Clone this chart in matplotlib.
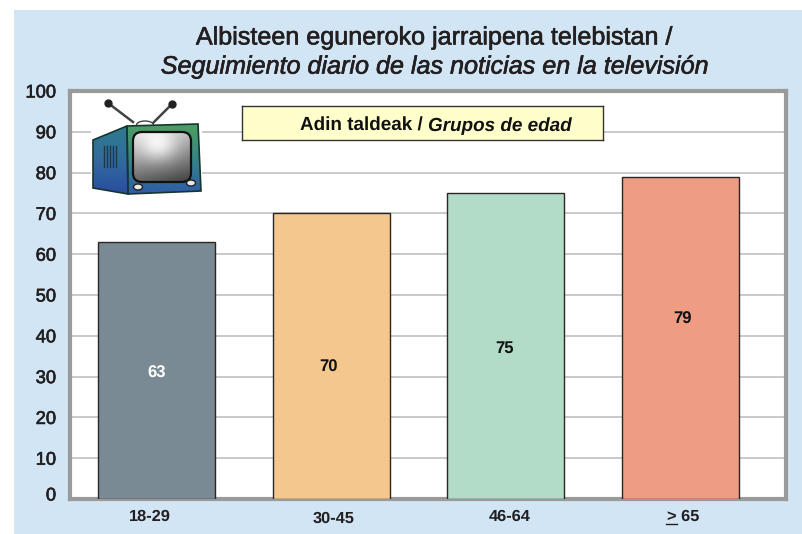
import matplotlib
matplotlib.use("Agg")
import matplotlib.pyplot as plt
import matplotlib.patheffects as pe
from matplotlib.lines import Line2D
from matplotlib.patches import Polygon, Rectangle, Ellipse, FancyBboxPatch
from matplotlib.transforms import ScaledTranslation
import numpy as np

plt.rcParams['font.family'] = ['Liberation Sans', 'DejaVu Sans']
plt.rcParams['text.hinting'] = 'no_hinting'

groups = ['18-29', '30-45', '46-64', '> 65']
group_px = [150, 334, 509.5, 683]
group_py = [517, 519, 517, 517]
values = [63, 70, 75, 79]
label_x = [0, 0.985, 1.992, 3.011]
label_y = [30.7, 32.2, 37.0, 44.0]
colors = ['#7a8a94', '#f4c78f', '#b2dcc7', '#ef9c85']
label_colors = ['white', '#111111', '#111111', '#111111']
yticks = list(range(0, 101, 10))
title_1 = 'Albisteen eguneroko jarraipena telebistan /'
title_2 = 'Seguimiento diario de las noticias en la televisión'
ink = '#231f20'
heavy = [pe.withStroke(linewidth=0.45, foreground=ink)]

W, H = 802, 534
fig = plt.figure(figsize=(W / 100, H / 100), dpi=100)
fig.patch.set_facecolor('white')

def px(x0, y0, x1, y1):
    return [x0 / W, 1 - y1 / H, (x1 - x0) / W, (y1 - y0) / H]

# blue panel behind everything
fig.patches.append(Rectangle((14 / W, 0), 1 - 14 / W, 1 - 10 / H, transform=fig.transFigure,
                             facecolor='#d1e5f4', edgecolor='none', zorder=-5))

ax = fig.add_axes(px(70, 91, 786, 499))
x = np.arange(len(values))
ax.bar(x, values, width=0.67, color=colors, edgecolor='#2b2523', linewidth=1.0, zorder=3)
ax.set_xlim(-0.495, 3.603)
ax.set_ylim(0, 100)
ax.set_yticks(yticks)
ax.set_yticklabels(yticks, fontsize=13.2, color=ink, path_effects=heavy)
ax.set_xticks([])
ax.tick_params(axis='y', length=0, pad=10)
ax.yaxis.grid(True, color='#c0c0c0', linewidth=1.2, zorder=0)
ax.set_axisbelow(True)
for s in ax.spines.values():
    s.set_color('#9a9a9a')
    s.set_linewidth(3)
# the 0 label sits a little above its gridline
zero = ax.get_yticklabels()[0]
zero.set_transform(zero.get_transform() + ScaledTranslation(0, 5 / 100, fig.dpi_scale_trans))

for i in x:
    ax.text(label_x[i], label_y[i], str(values[i]), ha='center', va='center', fontsize=12,
            fontweight='bold', color=label_colors[i], zorder=5)

for i in x:
    fig.text(group_px[i] / W, 1 - group_py[i] / H, groups[i], ha='center', va='center',
             fontsize=11.8, fontweight='bold', color=ink)
# the > of the last group is underlined
fig.add_artist(Line2D([666 / W, 677 / W], [1 - 523.5 / H, 1 - 523.5 / H], color=ink, lw=1))

fig.text(434 / W, 1 - 38 / H, title_1, ha='center', va='center', fontsize=18.1, color=ink,
         path_effects=heavy)
fig.text(434.5 / W, 1 - 67 / H, title_2, ha='center', va='center', fontsize=18.1,
         style='italic', color=ink, path_effects=heavy)

# legend style box
box = fig.add_axes(px(242, 106, 603, 140), zorder=6)
box.set_facecolor('#ffffcc')
box.set_xticks([])
box.set_yticks([])
for s in box.spines.values():
    s.set_color('#333333')
    s.set_linewidth(1)
box.text(0.515, 0.27, 'Adin taldeak / ', transform=box.transAxes, ha='right', va='baseline',
         fontsize=13.6, fontweight='bold', color='#111111')
box.text(0.515, 0.27, 'Grupos de edad', transform=box.transAxes, ha='left', va='baseline',
         fontsize=13.6, fontweight='bold', style='italic', color='#111111')

# tv picture, in its own pixel frame
tv = fig.add_axes(px(91, 98, 202, 196), zorder=6)
tv.axis('off')
tv.add_patch(Rectangle((91, 98), 111, 98, color='white', zorder=0))
tv.plot([108, 133], [103, 122], color='#444444', lw=1.8, zorder=1)
tv.plot([172, 153], [104, 123], color='#444444', lw=1.8, zorder=1)
tv.plot([108], [103], 'o', color='#222222', ms=5, zorder=1)
tv.plot([172], [104], 'o', color='#222222', ms=5, zorder=1)
tv.add_patch(Ellipse((145, 125), 17, 8, facecolor='white', edgecolor='#444444', lw=1, zorder=1))

front_pts = [(127, 126), (198, 124), (201, 191), (128, 194)]
side_pts = [(93, 140), (127, 126), (128, 194), (93, 188)]
front_cols = np.array([[0.30, 0.62, 0.38], [0.22, 0.52, 0.52], [0.18, 0.36, 0.66]])
side_cols = np.array([[0.18, 0.48, 0.55], [0.20, 0.42, 0.62], [0.16, 0.30, 0.62]])

def shaded(pts, cols, y0, y1):
    poly = Polygon(pts, facecolor='none', edgecolor='#16352f', lw=1.2, zorder=3)
    tv.add_patch(poly)
    t = np.linspace(0, 1, 64)
    rgb = np.stack([np.interp(t, [0, 0.5, 1], cols[:, k]) for k in range(3)], axis=1)[:, None, :]
    im = tv.imshow(rgb, extent=(91, 202, y1, y0), aspect='auto', zorder=2)
    im.set_clip_path(poly)

shaded(front_pts, front_cols, 124, 194)
shaded(side_pts, side_cols, 126, 194)

gx, gy = np.meshgrid(np.linspace(0, 1, 60), np.linspace(0, 1, 60))
shade = 0.9 - 0.5 * gy - 0.15 * gx + 0.25 * np.exp(-((gx - 0.45) ** 2 + (gy - 0.3) ** 2) / 0.1)
screen = FancyBboxPatch((133, 132), 58, 50, boxstyle='round,pad=0,rounding_size=9',
                        facecolor='none', edgecolor='#111111', lw=1.6, zorder=5)
tv.add_patch(screen)
img = tv.imshow(shade, extent=(133, 191, 182, 132), cmap='gray', vmin=0, vmax=1, aspect='auto', zorder=4)
img.set_clip_path(screen)
for cx, cy in [(138, 187), (191, 183)]:
    tv.add_patch(Ellipse((cx, cy), 9, 6, facecolor='#e8e8e8', edgecolor='#222222', lw=1, zorder=5))
for vx in [104, 107, 110, 113, 116]:
    tv.plot([vx, vx], [146, 167], color='#1d3a4a', lw=1, zorder=5)
tv.set_xlim(91, 202)
tv.set_ylim(196, 98)

fig.savefig('out.png', dpi=100, facecolor='white')
